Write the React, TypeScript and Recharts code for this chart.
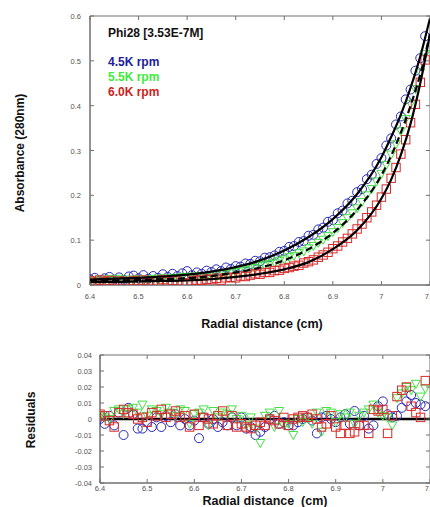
import React from 'react';
import { ScatterChart, Scatter, XAxis, YAxis, ReferenceArea, ReferenceLine } from 'recharts';

// radial positions of the scans (cm)
const radius = [
  6.40, 6.41, 6.42, 6.43, 6.44, 6.45, 6.46, 6.47, 6.48, 6.49,
  6.50, 6.51, 6.52, 6.53, 6.54, 6.55, 6.56, 6.57, 6.58, 6.59,
  6.60, 6.61, 6.62, 6.63, 6.64, 6.65, 6.66, 6.67, 6.68, 6.69,
  6.70, 6.71, 6.72, 6.73, 6.74, 6.75, 6.76, 6.77, 6.78, 6.79,
  6.80, 6.81, 6.82, 6.83, 6.84, 6.85, 6.86, 6.87, 6.88, 6.89,
  6.90, 6.91, 6.92, 6.93, 6.94, 6.95, 6.96, 6.97, 6.98, 6.99,
  7.00, 7.01, 7.02, 7.03, 7.04, 7.05, 7.06, 7.07, 7.08, 7.09,
];

// absorbance at 280nm
const abs45 = [
  .013, .016, .010, .015, .018, .012, .017, .011, .019, .021,
  .015, .022, .014, .020, .016, .024, .018, .025, .020, .026,
  .031, .022, .028, .025, .032, .029, .035, .031, .039, .036,
  .042, .041, .048, .047, .054, .053, .061, .062, .066, .074,
  .076, .085, .087, .096, .098, .110, .112, .124, .128, .141,
  .145, .160, .166, .182, .188, .207, .214, .236, .246, .270,
  .283, .311, .327, .358, .376, .414, .436, .478, .506, .555,
];
const abs55 = [
  .010, .008, .012, .009, .013, .010, .014, .009, .012, .010,
  .013, .009, .012, .014, .011, .015, .012, .016, .014, .018,
  .015, .019, .017, .020, .019, .022, .022, .025, .025, .028,
  .029, .032, .033, .037, .038, .042, .044, .047, .050, .054,
  .057, .062, .065, .071, .075, .082, .087, .094, .101, .109,
  .118, .127, .138, .149, .160, .171, .185, .200, .214, .231,
  .248, .268, .291, .314, .343, .370, .404, .437, .474, .515,
];
const abs60 = [
  .009, .006, .011, .007, .010, .005, .009, .008, .004, .010,
  .007, .011, .006, .009, .008, .012, .007, .010, .009, .005,
  .004, .009, .011, .010, .013, .012, .015, .011, .016, .017,
  .016, .020, .019, .022, .025, .024, .028, .028, .032, .033,
  .037, .039, .042, .044, .049, .052, .056, .062, .067, .073,
  .081, .087, .096, .104, .114, .125, .136, .150, .163, .178,
  .196, .214, .238, .262, .292, .324, .362, .403, .452, .502,
];

// fitted curves
const fitRadius = [6.40, 6.45, 6.50, 6.55, 6.60, 6.65, 6.70, 6.75, 6.80, 6.85, 6.90, 6.95, 7.00, 7.02, 7.04, 7.06, 7.08, 7.10];
const fit45 = [.012, .014, .016, .019, .023, .030, .040, .055, .077, .107, .147, .203, .285, .330, .380, .440, .510, .595];
const fit55 = [.009, .010, .011, .013, .015, .020, .028, .039, .055, .080, .116, .168, .245, .288, .340, .400, .470, .560];
const fit60 = [.007, .007, .008, .009, .010, .013, .018, .025, .035, .051, .080, .122, .193, .235, .290, .360, .450, .560];

// residuals of the fits
const res45 = [
  .000, -.003, .002, -.004, .004, -.010, .007, .003, -.006, -.006,
  -.002, -.005, .001, -.005, .002, -.002, .003, -.004, .000, -.004,
  -.001, -.012, .001, -.003, .000, -.005, -.002, -.004, .001, -.004,
  .001, -.006, -.005, -.010, -.008, -.005, .000, .002, -.003, -.002,
  -.004, -.004, -.002, .000, .001, -.001, -.009, .001, .002, .000,
  -.002, .001, .003, -.003, .005, -.004, .002, -.006, -.004, .008,
  .011, .003, .001, .002, .007, .011, .015, .010, .009, .008,
];
const res55 = [
  .002, .001, .000, .005, .006, .003, .006, .007, .004, .009,
  .002, .006, .005, .003, .007, .004, .002, .006, .005, -.003,
  .003, .004, .006, -.004, .005, .001, .004, .003, .006, .000,
  .002, -.004, .001, -.006, -.015, .002, .004, -.005, .005, -.004,
  -.003, -.010, .000, -.002, .001, -.003, .004, -.008, .005, .004,
  -.002, .003, .001, .004, -.003, .002, .004, .006, .009, .004,
  .002, .001, -.004, .013, .016, .020, .018, .022, .014, .019,
];
const res60 = [
  .003, .002, -.001, -.005, .004, .006, .004, .003, .000, .001,
  -.002, .004, .002, .006, .001, .003, .005, .001, .002, -.005,
  .003, -.004, .001, .000, -.003, .002, .005, -.004, .002, -.005,
  -.003, -.005, -.006, -.004, -.002, -.004, .000, -.001, -.003, .001,
  -.004, .000, .001, .002, .001, .003, .000, -.005, -.003, .002,
  -.005, -.009, -.004, -.009, -.008, -.004, -.004, -.009, .006, .005,
  .006, -.009, .002, .014, .018, .020, .008, .004, .001, .024,
];

const radiusTicks = [6.4, 6.5, 6.6, 6.7, 6.8, 6.9, 7, 7.1];
const absTicks = [0, 0.1, 0.2, 0.3, 0.4, 0.5, 0.6];
const resTicks = [-0.04, -0.03, -0.02, -0.01, 0, 0.01, 0.02, 0.03, 0.04];

const BLUE = '#2a2ab8';
const GREEN = '#44e044';
const RED = '#d82a2a';
const AXIS = '#707070';
const FONT = '"Liberation Sans", Arial, sans-serif';

const pts = (xs: number[], ys: number[]) => xs.map((x, i) => ({ x, y: ys[i] }));

const circle = (p: any) => <circle cx={p.cx} cy={p.cy} r={4.5} fill="none" stroke={BLUE} strokeWidth={1} />;
const square = (p: any) => <rect x={p.cx - 4.2} y={p.cy - 4.2} width={8.4} height={8.4} fill="none" stroke={RED} strokeWidth={1} />;
const triangle = (p: any) => (
  <path d={`M${p.cx - 4.5},${p.cy - 3.5}L${p.cx + 4.5},${p.cy - 3.5}L${p.cx},${p.cy + 4.5}Z`} fill="none" stroke={GREEN} strokeWidth={1} />
);
const noDot = () => <g />;

// ticks point inwards and are mirrored on the opposite side of the box
const xTick = (top: number, dy: number) => (props: any) => {
  const { x, y, payload } = props;
  return (
    <g>
      <line x1={x} x2={x} y1={y} y2={y - 4} stroke={AXIS} />
      <line x1={x} x2={x} y1={top} y2={top + 4} stroke={AXIS} />
      <text x={x} y={y + dy} textAnchor="middle" fontSize={7.5} fill="#555" fontFamily={FONT}>
        {String(payload.value)}
      </text>
    </g>
  );
};
const yTick = (right: number, gap: number) => (props: any) => {
  const { x, y, payload } = props;
  return (
    <g>
      <line x1={x} x2={x + 4} y1={y} y2={y} stroke={AXIS} />
      <line x1={right - 4} x2={right} y1={y} y2={y} stroke={AXIS} />
      <text x={x - gap} y={y + 3} textAnchor="end" fontSize={7.5} fill="#555" fontFamily={FONT}>
        {String(payload.value)}
      </text>
    </g>
  );
};

const label: React.CSSProperties = {
  position: 'absolute',
  fontFamily: FONT,
  fontWeight: 'bold',
  fontSize: 12,
  lineHeight: '14px',
  whiteSpace: 'pre',
  color: '#111',
};
const rotated = (cx: number, cy: number): React.CSSProperties => ({
  ...label,
  left: cx,
  top: cy,
  transform: 'translate(-50%, -50%) rotate(-90deg)',
});

export default function App() {
  return (
    <div style={{ position: 'fixed', left: 0, top: 0, width: 430, height: 507, overflow: 'hidden', background: '#fff' }}>
      <div style={{ position: 'absolute', left: 0, top: 0 }}>
        <ScatterChart width={440} height={310} margin={{ top: 16, right: 10, bottom: 0, left: 0 }}>
          <XAxis
            type="number"
            dataKey="x"
            domain={[6.4, 7.1]}
            ticks={radiusTicks}
            interval={0}
            height={25}
            tickSize={0}
            tickMargin={0}
            tickLine={false}
            axisLine={{ stroke: AXIS }}
            tick={xTick(16, 14)}
            allowDataOverflow
          />
          <YAxis
            type="number"
            dataKey="y"
            domain={[0, 0.6]}
            ticks={absTicks}
            interval={0}
            width={90}
            tickSize={0}
            tickMargin={0}
            tickLine={false}
            axisLine={{ stroke: AXIS }}
            tick={yTick(430, 9)}
            allowDataOverflow
          />
          <ReferenceArea x1={6.4} x2={7.1} y1={0} y2={0.6} fill="none" stroke={AXIS} strokeWidth={1} />
          <Scatter data={pts(radius, abs45)} shape={circle} isAnimationActive={false} />
          <Scatter data={pts(radius, abs55)} shape={triangle} isAnimationActive={false} />
          <Scatter data={pts(radius, abs60)} shape={square} isAnimationActive={false} />
          <Scatter data={pts(fitRadius, fit45)} shape={noDot} line={{ stroke: '#000', strokeWidth: 2.2 }} lineJointType="monotoneX" isAnimationActive={false} />
          <Scatter data={pts(fitRadius, fit55)} shape={noDot} line={{ stroke: '#000', strokeWidth: 2.2, strokeDasharray: '7 4' }} lineJointType="monotoneX" isAnimationActive={false} />
          <Scatter data={pts(fitRadius, fit60)} shape={noDot} line={{ stroke: '#000', strokeWidth: 2.2 }} lineJointType="monotoneX" isAnimationActive={false} />
        </ScatterChart>
      </div>

      <div style={{ position: 'absolute', left: 0, top: 340 }}>
        <ScatterChart width={440} height={160} margin={{ top: 15, right: 10, bottom: 0, left: 0 }}>
          <XAxis
            type="number"
            dataKey="x"
            domain={[6.4, 7.1]}
            ticks={radiusTicks}
            interval={0}
            height={17}
            tickSize={0}
            tickMargin={0}
            tickLine={false}
            axisLine={{ stroke: AXIS }}
            tick={xTick(15, 8)}
            allowDataOverflow
          />
          <YAxis
            type="number"
            dataKey="y"
            domain={[-0.04, 0.04]}
            ticks={resTicks}
            interval={0}
            width={100}
            tickSize={0}
            tickMargin={0}
            tickLine={false}
            axisLine={{ stroke: AXIS }}
            tick={yTick(430, 8)}
            allowDataOverflow
          />
          <ReferenceArea x1={6.4} x2={7.1} y1={-0.04} y2={0.04} fill="none" stroke={AXIS} strokeWidth={1} />
          <Scatter data={pts(radius, res45)} shape={circle} isAnimationActive={false} />
          <Scatter data={pts(radius, res55)} shape={triangle} isAnimationActive={false} />
          <Scatter data={pts(radius, res60)} shape={square} isAnimationActive={false} />
          <ReferenceLine y={0} stroke="#000" strokeWidth={2.5} />
        </ScatterChart>
      </div>

      <div style={{ ...label, left: 108, top: 26 }}>Phi28 [3.53E-7M]</div>
      <div style={{ ...label, left: 108, top: 55, color: '#20209a' }}>4.5K rpm</div>
      <div style={{ ...label, left: 108, top: 70, color: '#3cec3c' }}>5.5K rpm</div>
      <div style={{ ...label, left: 108, top: 85, color: '#cc2222' }}>6.0K rpm</div>

      <div style={rotated(20, 153)}>Absorbance (280nm)</div>
      <div style={{ ...label, left: 262, top: 317, fontSize: 12.5, transform: 'translateX(-50%)' }}>Radial distance (cm)</div>

      <div style={rotated(31, 420)}>Residuals</div>
      <div style={{ ...label, left: 265, top: 494, fontSize: 12.5, transform: 'translateX(-50%)' }}>Radial distance  (cm)</div>
    </div>
  );
}
